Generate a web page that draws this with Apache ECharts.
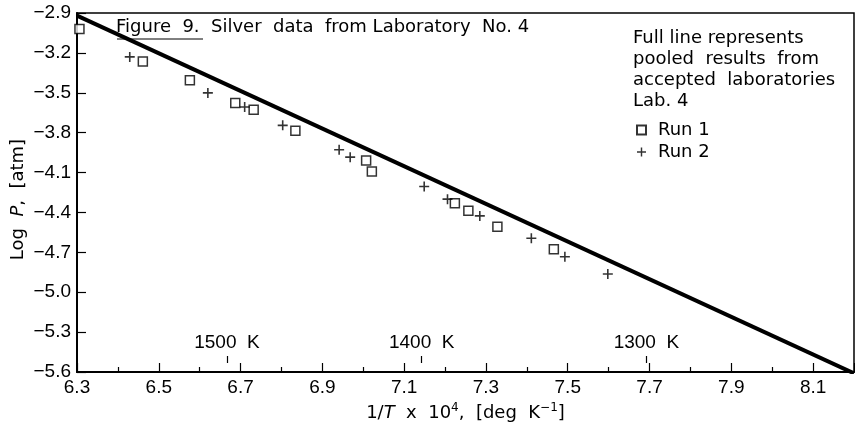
<!DOCTYPE html>
<html>
<head>
    <meta charset="utf-8">
    <title>Figure 9</title>
    <script src="https://cdn.jsdelivr.net/npm/echarts@6/dist/echarts.min.js"></script>
    <style>
        html, body { margin: 0; padding: 0; background: #fff; }
    </style>
</head>
<body>
    <div id="main" style="width: 855px;height:427px;"></div>
    <script type="text/javascript">
        // Lab 4, run 1 (squares)
        var run1X = [6.306, 6.461, 6.576, 6.687, 6.732, 6.834, 7.007, 7.021, 7.224, 7.257, 7.328, 7.466];
        var run1Y = [-3.02, -3.265, -3.406, -3.577, -3.627, -3.786, -4.009, -4.092, -4.330, -4.388, -4.507, -4.677];
        // Lab 4, run 2 (crosses)
        var run2X = [6.429, 6.620, 6.710, 6.803, 6.941, 6.968, 7.149, 7.206, 7.285, 7.411, 7.493, 7.598];
        var run2Y = [-3.230, -3.501, -3.607, -3.745, -3.929, -3.984, -4.205, -4.300, -4.426, -4.594, -4.733, -4.863];
        // pooled line from accepted laboratories
        var fitX = [6.3, 8.2];
        var fitY = [-2.92, -5.61];
        // temperature marks on the inverse scale
        var tempsK = [1500, 1400, 1300];

        var font = 'DejaVu Sans';
        var tickFont = 'Liberation Sans';
        var fs = 18;
        var minus = function (s) { return s.replace('-', '\u2212'); };
        function pairs(xs, ys) {
            var out = [];
            for (var i = 0; i < xs.length; i++) out.push([xs[i], ys[i]]);
            return out;
        }
        var tempX = tempsK.map(function (t) { return 1e4 / t; });

        var myChart = echarts.init(document.getElementById('main'));
        var option = {
            animation: false,
            backgroundColor: '#fff',
            textStyle: { fontFamily: font, color: '#000' },
            title: [{
                text: 'Figure  9.  Silver  data  from Laboratory  No. 4',
                left: 116, top: 18, padding: 0,
                textStyle: { fontFamily: font, fontSize: fs, fontWeight: 'normal', color: '#000' }
            }, {
                text: 'Full line represents\npooled  results  from\naccepted  laboratories\nLab. 4',
                left: 633, top: 28, padding: 0,
                textStyle: { fontFamily: font, fontSize: fs, fontWeight: 'normal', color: '#000', lineHeight: 21 }
            }],
            legend: {
                orient: 'vertical',
                left: 631, top: 116,
                itemWidth: 9, itemHeight: 9, itemGap: 4,
                textStyle: { fontFamily: font, fontSize: fs, color: '#000', padding: [0, 0, 0, 7] },
                data: ['Run 1', 'Run 2']
            },
            graphic: [{
                type: 'line', shape: { x1: 117, y1: 39, x2: 203, y2: 39 },
                style: { stroke: '#000', lineWidth: 1 }
            }],
            grid: {
                left: 77, right: 1, top: 13, bottom: 55,
                outerBoundsMode: 'none',
                show: true, borderColor: '#000', borderWidth: 1.5
            },
            xAxis: [{
                type: 'value', min: 6.3, max: 8.2, interval: 0.2,
                name: '1/{i|T}  x  10{sup|4},  [deg  K{sup|\u22121}]',
                nameLocation: 'middle', nameGap: 29,
                nameTextStyle: {
                    fontFamily: font, fontSize: fs, color: '#000',
                    rich: {
                        i: { fontFamily: font, fontSize: fs, fontStyle: 'italic' },
                        sup: { fontFamily: font, fontSize: 12, verticalAlign: 'top', padding: [0, 0, 10, 0] }
                    }
                },
                axisLine: { lineStyle: { color: '#000', width: 2 } },
                axisTick: { inside: true, length: 9, lineStyle: { color: '#000', width: 1.2 } },
                minorTick: { show: true, splitNumber: 2, length: 5, lineStyle: { color: '#000', width: 1.2 } },
                axisLabel: {
                    fontFamily: tickFont, fontSize: 19, color: '#000', margin: 6, showMaxLabel: false,
                    formatter: function (v) { return v.toFixed(1); }
                },
                splitLine: { show: false }
            }, {
                type: 'value', min: 6.3, max: 8.2, position: 'bottom', offset: -9,
                axisLine: { show: false },
                axisTick: { show: true, inside: true, length: 7, customValues: tempX, lineStyle: { color: '#000', width: 1.2 } },
                axisLabel: {
                    show: true, inside: true, margin: 11, customValues: tempX,
                    fontFamily: tickFont, fontSize: 19, color: '#000',
                    formatter: function (v) { return Math.round(1e4 / v) + '  K'; }
                },
                splitLine: { show: false }
            }],
            yAxis: {
                type: 'value', min: -5.6, max: -2.9, interval: 0.3,
                name: 'Log  {i|P},  [atm]',
                nameLocation: 'middle', nameGap: 50, nameMoveOverlap: false,
                nameTextStyle: {
                    fontFamily: font, fontSize: fs, color: '#000', padding: [0, 14, 0, 0],
                    rich: { i: { fontFamily: font, fontSize: fs, fontStyle: 'italic' } }
                },
                axisLine: { lineStyle: { color: '#000', width: 2 } },
                axisTick: { inside: true, length: 9, lineStyle: { color: '#000', width: 1.2 } },
                axisLabel: {
                    fontFamily: tickFont, fontSize: 19, color: '#000', margin: 6,
                    formatter: function (v) { return minus(v.toFixed(1)); }
                },
                splitLine: { show: false }
            },
            series: [{
                name: 'Pooled',
                type: 'line',
                data: pairs(fitX, fitY),
                symbol: 'none',
                lineStyle: { color: '#000', width: 4 },
                z: 1
            }, {
                name: 'Run 1',
                type: 'scatter',
                data: pairs(run1X, run1Y),
                symbol: 'rect',
                symbolSize: 9,
                itemStyle: { color: '#fff', borderColor: '#000', borderWidth: 1.5 },
                z: 3
            }, {
                name: 'Run 2',
                type: 'scatter',
                data: pairs(run2X, run2Y),
                symbol: 'path://M4.2,0h1.6v4.2h4.2v1.6h-4.2v4.2h-1.6v-4.2h-4.2v-1.6h4.2z',
                symbolSize: 10,
                itemStyle: { color: '#000' },
                z: 3
            }]
        };
        myChart.setOption(option);
    </script>
</body>
</html>
